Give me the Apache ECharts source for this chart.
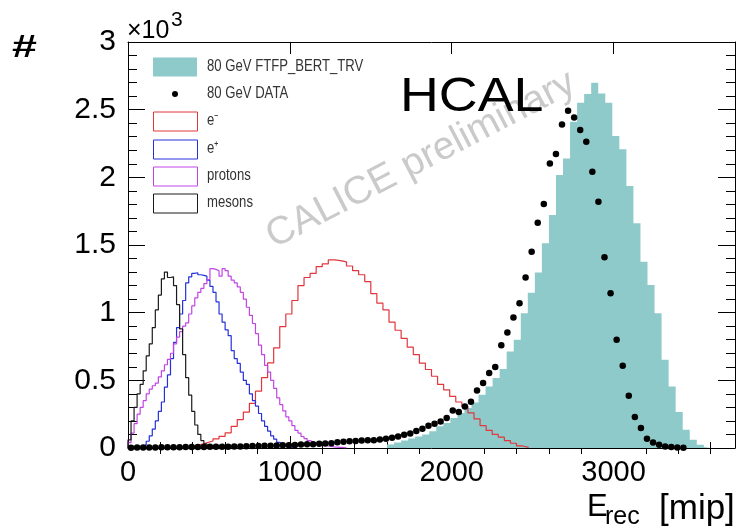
<!DOCTYPE html>
<html>
<head>
<meta charset="utf-8">
<script src="https://cdn.jsdelivr.net/npm/echarts@6/dist/echarts.min.js"></script>
<style>
  html, body { margin: 0; padding: 0; background: #fff; }
  #chart { width: 737px; height: 527px; }
</style>
</head>
<body>
<div id="chart"></div>
<script>
// Reconstructed energy E_rec [mip]
const BIN_W = 37.5;      // data and e- histogram: 100 bins, 0..3750
const FINE_W = 18.75;    // e+, protons, mesons: finer binning
const MC_START = 1600;   // simulated 80 GeV sample, own binning
const MC_W = 43.5;

const X_MAJOR = [0, 1000, 2000, 3000];

const mcFTFP = [
  25, 40, 55, 70, 85, 100, 123, 160, 185, 221,
  258, 295, 337, 393, 455, 517, 583, 713, 799, 996,
  1148, 1296, 1513, 1722, 2017, 2140, 2411, 2551, 2615, 2698,
  2620, 2551, 2305, 2207, 1936, 1660, 1377, 1205, 996, 652,
  455, 266, 135, 61, 24, 8
];

const dataCounts = [
  2, 3, 3, 4, 4, 5, 5, 6, 6, 7,
  7, 8, 8, 9, 9, 10, 10, 11, 12, 13,
  14, 15, 16, 17, 18, 20, 21, 23, 25, 27,
  28, 31, 33, 36, 42, 46, 49, 52, 55, 57,
  58, 62, 68, 76, 85, 98, 108, 125, 143, 164,
  179, 196, 221, 277, 266, 307, 342, 425, 480, 554,
  598, 760, 853, 964, 1070, 1259, 1450, 1665, 1803, 2103,
  2172, 2391, 2492, 2443, 2349, 2263, 2041, 1820, 1410, 1144,
  799, 607, 386, 229, 148, 69, 41, 24, 12, 7,
  4, 2
];

const electrons = [
  0, 0, 1, 2, 3, 5, 7, 9, 11, 12,
  18, 25, 39, 52, 68, 86, 112, 160, 210, 265,
  330, 420, 520, 629, 740, 897, 990, 1090, 1200, 1260,
  1290, 1340, 1360, 1390, 1385, 1375, 1345, 1310, 1280, 1230,
  1140, 1070, 1020, 930, 870, 810, 745, 690, 627, 580,
  530, 470, 430, 381, 340, 307, 260, 215, 165, 130,
  100, 80, 55, 35, 15, 5
];

const positrons = [
  0, 0, 2, 5, 12, 25, 50, 90, 140, 200,
  270, 340, 450, 540, 660, 780, 890, 990, 1090, 1220,
  1265, 1290, 1295, 1280, 1275, 1270, 1240, 1195, 1150, 1080,
  990, 930, 873, 830, 720, 660, 625, 560, 500, 470,
  400, 350, 310, 255, 200, 160, 125, 90, 65, 42,
  28, 18, 10, 5, 2
];

const protons = [
  40, 110, 180, 250, 300, 350, 400, 435, 460, 480,
  525, 570, 615, 655, 700, 770, 820, 860, 900, 925,
  990, 1050, 1110, 1150, 1180, 1215, 1245, 1325, 1320, 1310,
  1270, 1325, 1310, 1270, 1240, 1220, 1190, 1150, 1100, 1040,
  980, 920, 845, 760, 690, 610, 560, 500, 440, 370,
  320, 275, 230, 200, 165, 130, 110, 85, 70, 55,
  45, 37, 30, 24, 19, 15, 12, 9, 7, 5,
  3, 1
];

const mesons = [
  60, 200, 300, 400, 470, 570, 680, 770, 890, 1020,
  1130, 1250, 1300, 1260, 1265, 1200, 1060, 880, 690, 520,
  390, 270, 170, 100, 55, 30, 15, 8, 4, 2
];

const legendNames = [
  '80 GeV FTFP_BERT_TRV', '80 GeV DATA', 'e\u207B', 'e\u207A', 'protons', 'mesons'
];

const TEAL = '#8fcaca';
const RED = '#e0363c';
const BLUE = '#2630dc';
const MAGENTA = '#c244e6';
const BLACK = '#1a1a1a';

// histogram outline: flat top across each bin, dropping to zero at both ends
function stepPoints(values, start, width) {
  const pts = [[start, 0]];
  values.forEach((v, i) => {
    const lo = start + i * width;
    pts.push([lo, v], [lo + width, v]);
  });
  pts.push([start + values.length * width, 0]);
  return pts;
}

function minorValues(step, max, majorStep) {
  const out = [];
  for (let v = step; v <= max; v += step) {
    if (v % majorStep !== 0) out.push(v);
  }
  return out;
}

const X_MINOR = minorValues(200, 3700, 1000);

const FONT = '"Liberation Sans", Arial, Helvetica, sans-serif';

function histLine(name, values, width, color) {
  return {
    name: name,
    type: 'line',
    data: stepPoints(values, 0, width),
    showSymbol: false,
    symbol: 'none',
    lineStyle: { color: color, width: 1.2 },
    z: 3,
    animation: false
  };
}

const chart = echarts.init(document.getElementById('chart'), null, { renderer: 'canvas' });

const xBase = { type: 'value', min: 0, max: 3750, splitLine: { show: false } };
const yBase = { type: 'value', min: 0, max: 3000, interval: 500, splitLine: { show: false } };

const option = {
  animation: false,
  backgroundColor: '#fff',
  grid: { left: 128, right: 2, top: 42, bottom: 79, containLabel: false },
  xAxis: [
    Object.assign({}, xBase, {
      position: 'bottom',
      axisLine: { show: true, onZero: false, lineStyle: { color: '#000', width: 1 } },
      axisTick: { show: true, inside: true, length: 12, customValues: X_MAJOR, lineStyle: { color: '#000' } },
      axisLabel: {
        show: true, customValues: X_MAJOR, margin: 10, color: '#000', fontSize: 29, fontFamily: FONT,
        formatter: v => String(v)
      }
    }),
    Object.assign({}, xBase, {
      position: 'bottom',
      axisLine: { show: false },
      axisTick: { show: true, inside: true, length: 6, customValues: X_MINOR, lineStyle: { color: '#000' } },
      axisLabel: { show: false }
    }),
    Object.assign({}, xBase, {
      position: 'top',
      axisLine: { show: true, onZero: false, lineStyle: { color: '#000', width: 1 } },
      axisTick: { show: true, inside: true, length: 12, customValues: X_MAJOR, lineStyle: { color: '#000' } },
      axisLabel: { show: false }
    }),
    Object.assign({}, xBase, {
      position: 'top',
      axisLine: { show: false },
      axisTick: { show: true, inside: true, length: 6, customValues: X_MINOR, lineStyle: { color: '#000' } },
      axisLabel: { show: false }
    })
  ],
  yAxis: [
    Object.assign({}, yBase, {
      position: 'left',
      axisLine: { show: true, onZero: false, lineStyle: { color: '#000', width: 1 } },
      axisTick: { show: true, inside: true, length: 17, lineStyle: { color: '#000' } },
      minorTick: { show: true, splitNumber: 5, length: 9, lineStyle: { color: '#000' } },
      axisLabel: {
        margin: 12, color: '#000', fontSize: 30, fontFamily: FONT,
        formatter: v => String(v / 1000)
      }
    }),
    Object.assign({}, yBase, {
      position: 'right',
      axisLine: { show: true, onZero: false, lineStyle: { color: '#000', width: 1 } },
      axisTick: { show: true, inside: true, length: 17, lineStyle: { color: '#000' } },
      minorTick: { show: true, splitNumber: 5, length: 9, lineStyle: { color: '#000' } },
      axisLabel: { show: false }
    })
  ],
  series: [
    {
      name: legendNames[0],
      type: 'line',
      data: stepPoints(mcFTFP, MC_START, MC_W),
      showSymbol: false,
      symbol: 'none',
      lineStyle: { width: 0, color: TEAL },
      areaStyle: { color: TEAL, opacity: 1 },
      z: 2,
      animation: false
    },
    histLine(legendNames[2], electrons, BIN_W, RED),
    histLine(legendNames[3], positrons, FINE_W, BLUE),
    histLine(legendNames[4], protons, FINE_W, MAGENTA),
    histLine(legendNames[5], mesons, FINE_W, BLACK),
    {
      name: legendNames[1],
      type: 'scatter',
      data: dataCounts.map((v, k) => [BIN_W * (k + 0.5), v]),
      symbol: 'circle',
      symbolSize: 6.5,
      itemStyle: { color: '#000', opacity: 1 },
      z: 5,
      animation: false
    }
  ],
  graphic: buildGraphics()
};

function buildGraphics() {
  const g = [];
  // watermark
  g.push({
    type: 'text', x: 421, y: 160, rotation: 27.5 * Math.PI / 180, z: 0, zlevel: 0,
    style: { text: 'CALICE preliminary', fill: '#cacaca', font: '39px ' + FONT, align: 'center', verticalAlign: 'middle' }
  });
  // axis titles and multiplier
  g.push({ type: 'text', x: 12, y: 48, scaleX: 1.4, style: { text: '#', fill: '#000', font: 'bold 32px ' + FONT, align: 'left', verticalAlign: 'middle' } });
  g.push({ type: 'text', x: 127, y: 31, style: { text: '\u00D710', fill: '#000', font: '25px ' + FONT, align: 'left', verticalAlign: 'middle' } });
  g.push({ type: 'text', x: 171, y: 20, style: { text: '3', fill: '#000', font: '21px ' + FONT, align: 'left', verticalAlign: 'middle' } });
  g.push({ type: 'text', x: 587, y: 507, style: { text: 'E', fill: '#000', font: '31px ' + FONT, align: 'left', verticalAlign: 'middle' } });
  g.push({ type: 'text', x: 605, y: 517, style: { text: 'rec', fill: '#000', font: '25px ' + FONT, align: 'left', verticalAlign: 'middle' } });
  g.push({ type: 'text', x: 659, y: 509, style: { text: '[mip]', fill: '#000', font: '35px ' + FONT, align: 'left', verticalAlign: 'middle' } });
  g.push({ type: 'text', x: 400, y: 98, scaleX: 1.12, style: { text: 'HCAL', fill: '#000', font: '48px ' + FONT, align: 'left', verticalAlign: 'middle' } });

  // legend
  const rowY = [67, 94, 121, 149, 176, 203];
  const boxX = 153, boxW = 44, boxH = 19;
  const strokes = [null, null, RED, BLUE, MAGENTA, BLACK];
  rowY.forEach((y, i) => {
    if (i === 0) {
      g.push({ type: 'rect', shape: { x: boxX, y: y - boxH / 2, width: boxW, height: boxH }, style: { fill: TEAL } });
    } else if (i === 1) {
      g.push({ type: 'circle', shape: { cx: boxX + boxW / 2, cy: y, r: 3 }, style: { fill: '#000' } });
    } else {
      g.push({ type: 'rect', shape: { x: boxX + 0.5, y: y - boxH / 2 + 0.5, width: boxW, height: boxH }, style: { fill: '#fff', stroke: strokes[i], lineWidth: 1 } });
    }
    g.push({
      type: 'text', x: 207, y: y, scaleX: 0.82,
      style: { text: legendNames[i], fill: '#333', font: '16px ' + FONT, align: 'left', verticalAlign: 'middle' }
    });
  });
  return g;
}

chart.setOption(option);
</script>
</body>
</html>
